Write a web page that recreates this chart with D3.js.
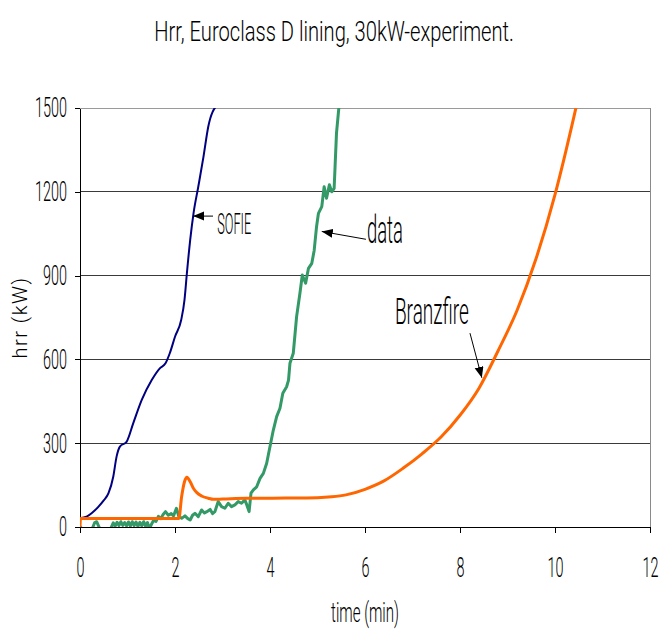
<!DOCTYPE html>
<html>
<head>
<meta charset="utf-8">
<script src="https://cdn.jsdelivr.net/npm/d3@7"></script>
<style>
  body { margin: 0; background: #fff; }
  svg text { font-family: Roboto, "Liberation Sans", sans-serif; font-weight: 300; fill: #000; }
  .tick text { font-size: 28px; }
</style>
</head>
<body>
<svg id="chart" width="660" height="635"></svg>
<script>
// Heat release rate, hrr (kW) against time (min)
const xTicks = [0, 2, 4, 6, 8, 10, 12];
const yTicks = [0, 300, 600, 900, 1200, 1500];

// SOFIE simulation
const sofie = [
  [0.03, 32], [0.15, 38], [0.25, 50], [0.39, 73], [0.50, 95], [0.60, 121],
  [0.70, 180], [0.77, 252], [0.84, 288], [0.98, 305], [1.12, 371], [1.30, 455],
  [1.51, 526], [1.68, 568], [1.80, 586], [1.89, 622], [2.00, 681], [2.13, 741],
  [2.20, 813], [2.25, 908], [2.32, 1028], [2.39, 1123], [2.49, 1218], [2.60, 1326],
  [2.70, 1433], [2.88, 1510]
];

// Measured data
const measured = [
  [0, 2], [0.05, -8], [0.12, -22], [0.19, -15], [0.26, -5], [0.31, 16], [0.35, 19],
  [0.39, 4], [0.45, -18], [0.52, -30], [0.59, -20], [0.65, -4], [0.70, 15], [0.74, 3],
  [0.78, 17], [0.82, 5], [0.86, 19], [0.90, 6], [0.94, 16], [0.98, 4], [1.02, 18],
  [1.06, 3], [1.10, 19], [1.14, 5], [1.18, 18], [1.22, 2], [1.26, 17], [1.30, 4],
  [1.34, 19], [1.38, 3], [1.42, 16], [1.46, -6], [1.50, 8], [1.55, 24], [1.60, 20],
  [1.65, 38], [1.70, 30], [1.75, 45], [1.80, 55], [1.86, 42], [1.92, 48], [1.97, 40],
  [2.03, 67], [2.08, 38], [2.14, 31], [2.21, 40], [2.27, 30], [2.32, 25], [2.37, 42],
  [2.42, 49], [2.49, 37], [2.56, 61], [2.62, 50], [2.67, 55], [2.74, 63], [2.79, 48],
  [2.84, 55], [2.91, 91], [2.98, 73], [3.05, 67], [3.12, 85], [3.19, 73], [3.26, 79],
  [3.33, 91], [3.40, 85], [3.47, 97], [3.51, 80], [3.56, 55], [3.60, 121], [3.65, 133],
  [3.72, 144], [3.79, 174], [3.86, 192], [3.93, 228], [4.00, 288], [4.07, 347],
  [4.14, 395], [4.21, 425], [4.27, 479], [4.35, 502], [4.39, 526], [4.42, 586],
  [4.49, 622], [4.56, 753], [4.63, 837], [4.68, 902], [4.72, 885], [4.75, 873],
  [4.81, 926], [4.88, 944], [4.93, 990], [4.98, 1075], [5.02, 1123], [5.09, 1147],
  [5.14, 1218], [5.19, 1177], [5.25, 1225], [5.30, 1200], [5.35, 1212], [5.37, 1290],
  [5.40, 1410], [5.46, 1520]
];

// Branzfire simulation
const branzfire = [
  [0, 0], [0.01, 30], [2.08, 30], [2.14, 109], [2.20, 162], [2.25, 178], [2.32, 162],
  [2.39, 138], [2.46, 123], [2.56, 111], [2.70, 103], [2.81, 99], [3.0, 100],
  [3.5, 103], [4.0, 103], [4.5, 104], [5.0, 105], [5.3, 108], [5.6, 115], [6.0, 135],
  [6.4, 165], [6.8, 210], [7.2, 262], [7.6, 322], [8.0, 400], [8.4, 497], [8.8, 630],
  [9.2, 775], [9.6, 960], [10.0, 1190], [10.4, 1470], [10.5, 1545]
];

// Callouts: label, label anchor (time, hrr), arrow tail and tip (time, hrr), label width
const callouts = [
  { text: "SOFIE",     at: [2.89, 1050], size: 29, width: 34, from: [2.80, 1113], to: [2.38, 1113] },
  { text: "data",      at: [6.04, 1015], size: 38, width: 36, from: [6.02, 1030], to: [5.09, 1058] },
  { text: "Branzfire", at: [6.63, 728],  size: 37, width: 74, from: [8.21, 694],  to: [8.46, 534] }
];

const svg = d3.select("#chart");
const x = d3.scaleLinear().domain([0, 12]).range([80, 650]);
const y = d3.scaleLinear().domain([0, 1500]).range([527, 108]);

// stretch a text node horizontally so its rendered width equals target
function fitWidth(sel, target) {
  const w = sel.node().getComputedTextLength();
  sel.attr("transform", `scale(${target / w},1)`);
}

// Title
const title = svg.append("g").attr("transform", "translate(334,41)")
  .append("text").attr("text-anchor", "middle").style("font-size", "28px")
  .text("Hrr, Euroclass D lining, 30kW-experiment.");
fitWidth(title, 360);

// Horizontal gridlines
svg.append("g").selectAll("line").data(yTicks.filter(d => d > 0)).join("line")
  .attr("x1", x(0)).attr("x2", x(12))
  .attr("y1", d => y(d)).attr("y2", d => y(d))
  .attr("stroke", d => d === 1500 ? "#9a9a9a" : "#3a3a3a").attr("stroke-width", 1)
  .attr("shape-rendering", "crispEdges");
// right frame
svg.append("line").attr("x1", x(12)).attr("x2", x(12)).attr("y1", y(1500)).attr("y2", y(0))
  .attr("stroke", "#8a8a8a").attr("shape-rendering", "crispEdges");

// Axes
const yAxis = svg.append("g").attr("transform", `translate(${x(0)},0)`)
  .call(d3.axisLeft(y).tickValues(yTicks).tickSize(5).tickSizeOuter(0).tickFormat(d3.format("d")));
const xAxis = svg.append("g").attr("transform", `translate(0,${y(0)})`)
  .call(d3.axisBottom(x).tickValues(xTicks).tickSize(6).tickSizeOuter(0).tickFormat(d3.format("d")));
[yAxis, xAxis].forEach(g => {
  g.attr("font-family", null).attr("font-size", null);
  g.selectAll("path, line").attr("stroke", "#000").attr("shape-rendering", "crispEdges");
});
const refW = yAxis.selectAll(".tick text").filter(d => d === 1500).node().getComputedTextLength();
const tickScale = 32 / refW;
yAxis.selectAll(".tick text").attr("x", -13 / tickScale).attr("transform", `scale(${tickScale},1)`);
xAxis.selectAll(".tick text").attr("y", 30).attr("transform", `scale(${tickScale},1)`);

// Axis titles
svg.append("g").attr("transform", `translate(27,${(y(0) + y(1500)) / 2}) rotate(-90)`)
  .append("text").attr("text-anchor", "middle").style("font-size", "20px")
  .style("letter-spacing", "1.5px").text("hrr (kW)");
const xTitle = svg.append("g").attr("transform", `translate(${(x(0) + x(12)) / 2},622)`)
  .append("text").attr("text-anchor", "middle").style("font-size", "27px").text("time (min)");
fitWidth(xTitle, 68);

// Series
svg.append("defs").append("clipPath").attr("id", "plot")
  .append("rect").attr("x", x(0)).attr("y", y(1500)).attr("width", x(12) - x(0)).attr("height", y(0) - y(1500));
const plot = svg.append("g").attr("clip-path", "url(#plot)");
const lineLinear = d3.line().x(d => x(d[0])).y(d => y(d[1]));
const lineSmooth = d3.line().x(d => x(d[0])).y(d => y(d[1])).curve(d3.curveMonotoneX);

plot.append("path").datum(measured).attr("d", lineLinear)
  .attr("fill", "none").attr("stroke", "#339966").attr("stroke-width", 3).attr("stroke-linejoin", "round");
plot.append("path").datum(sofie).attr("d", lineSmooth)
  .attr("fill", "none").attr("stroke", "#000080").attr("stroke-width", 2);
plot.append("path").datum(branzfire).attr("d", lineSmooth)
  .attr("fill", "none").attr("stroke", "#ff6600").attr("stroke-width", 3).attr("stroke-linejoin", "round");

// Callouts with arrows
svg.select("defs").append("marker").attr("id", "arrow")
  .attr("markerUnits", "userSpaceOnUse").attr("markerWidth", 12).attr("markerHeight", 10)
  .attr("refX", 11).attr("refY", 4.5).attr("orient", "auto")
  .append("path").attr("d", "M0,0 L11,4.5 L0,9 Z").attr("fill", "#000");

callouts.forEach(c => {
  svg.append("line")
    .attr("x1", x(c.from[0])).attr("y1", y(c.from[1]))
    .attr("x2", x(c.to[0])).attr("y2", y(c.to[1]))
    .attr("stroke", "#000").attr("stroke-width", 1).attr("marker-end", "url(#arrow)");
  const t = svg.append("g").attr("transform", `translate(${x(c.at[0])},${y(c.at[1])})`)
    .append("text").style("font-size", c.size + "px").text(c.text);
  fitWidth(t, c.width);
});
</script>
</body>
</html>
